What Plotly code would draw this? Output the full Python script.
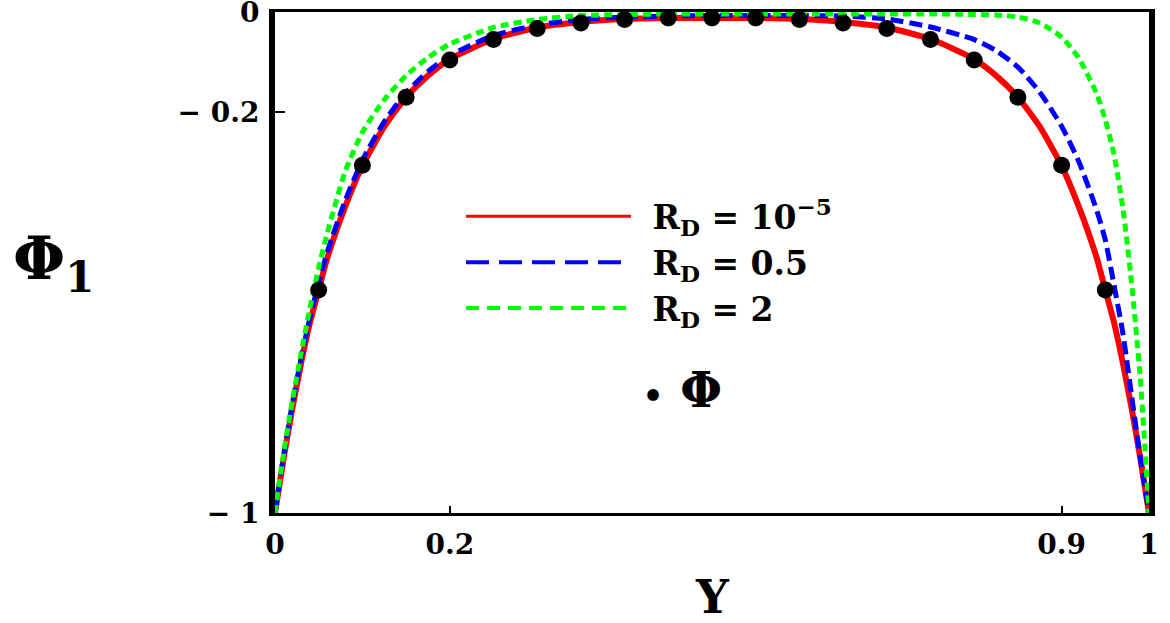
import plotly.graph_objects as go

Y = [0.0, 0.01, 0.02, 0.03, 0.04, 0.05, 0.06, 0.08, 0.10, 0.125, 0.15, 0.175, 0.20,
     0.25, 0.30, 0.35, 0.40, 0.45, 0.50, 0.55, 0.60, 0.65, 0.70, 0.75, 0.80, 0.825,
     0.85, 0.875, 0.90, 0.92, 0.94, 0.95, 0.96, 0.97, 0.98, 0.99, 1.0]

# Phi_1 for R_D = 1e-5 (red, solid)
phi1_rd_small = [-1.0, -0.89, -0.79, -0.70, -0.62, -0.555, -0.49, -0.39, -0.307, -0.229,
                 -0.170, -0.127, -0.094, -0.054, -0.031, -0.020, -0.014, -0.012, -0.012,
                 -0.012, -0.014, -0.020, -0.031, -0.054, -0.094, -0.127, -0.170, -0.229,
                 -0.307, -0.39, -0.49, -0.555, -0.62, -0.70, -0.79, -0.89, -1.0]

# Phi_1 for R_D = 0.5 (blue, dashed)
phi1_rd_half = [-1.0, -0.885, -0.78, -0.69, -0.61, -0.54, -0.478, -0.378, -0.296, -0.219,
                -0.161, -0.119, -0.087, -0.047, -0.026, -0.015, -0.010, -0.008, -0.007,
                -0.007, -0.007, -0.008, -0.014, -0.030, -0.055, -0.077, -0.110, -0.160,
                -0.228, -0.300, -0.395, -0.455, -0.545, -0.64, -0.765, -0.89, -1.0]

# Phi_1 for R_D = 2 (green, dotted)
phi1_rd_two = [-1.0, -0.88, -0.775, -0.68, -0.59, -0.51, -0.44, -0.32, -0.24, -0.175,
               -0.127, -0.091, -0.064, -0.031, -0.015, -0.007, -0.005, -0.004, -0.004,
               -0.004, -0.004, -0.004, -0.004, -0.004, -0.005, -0.006, -0.010, -0.022,
               -0.05, -0.093, -0.163, -0.215, -0.285, -0.39, -0.54, -0.73, -1.0]

# Phi (black dots)
Y_dots = [0.05, 0.10, 0.15, 0.20, 0.25, 0.30, 0.35, 0.40, 0.45, 0.50,
          0.55, 0.60, 0.65, 0.70, 0.75, 0.80, 0.85, 0.90, 0.95]
phi_dots = [-0.555, -0.306, -0.170, -0.096, -0.055, -0.033, -0.022, -0.015, -0.012, -0.012,
            -0.012, -0.015, -0.022, -0.033, -0.055, -0.096, -0.170, -0.306, -0.555]

x_tickvals = [0, 0.2, 0.9, 1]
x_ticktext = ["0", "0.2", "0.9", "1"]
y_tickvals = [-1, -0.2, 0]
y_ticktext = ["\u2212 1", "\u2212 0.2", "0"]

names = ["R<sub>D</sub> = 10<sup>\u22125</sup>", "R<sub>D</sub> = 0.5", "R<sub>D</sub> = 2"]
colors = ["#FF0000", "#0000FF", "#00FF00"]

FONT = "DejaVu Serif"
SP = "\u2002"

fig = go.Figure()
curve_style = [dict(width=6), dict(width=5, dash="13px,6px"), dict(width=5, dash="8px,5px")]
legend_style = [dict(width=3), dict(width=4, dash="23px,10px"), dict(width=4, dash="13px,8px")]
for ys, c, cs in zip([phi1_rd_small, phi1_rd_half, phi1_rd_two], colors, curve_style):
    fig.add_trace(go.Scatter(x=Y, y=ys, mode="lines", showlegend=False,
                             line=dict(color=c, shape="spline", smoothing=0.6, **cs)))
fig.add_trace(go.Scatter(x=Y_dots, y=phi_dots, mode="markers", showlegend=False,
                         marker=dict(color="black", size=17, line=dict(width=0))))

# legend entries (thinner strokes, as drawn in the original legend)
for n, c, ls in zip(names, colors, legend_style):
    fig.add_trace(go.Scatter(x=[None], y=[None], mode="lines", name=SP + n,
                             legendgroup="curves", line=dict(color=c, **ls)))
fig.add_trace(go.Scatter(x=[None], y=[None], mode="lines",
                         name="\u2009\u2022" + SP + "<span style='font-size:48px'>\u03a6</span>",
                         legendgroup="dots", line=dict(width=0, color="rgba(0,0,0,0)")))

fig.update_layout(
    width=1170, height=623,
    margin=dict(l=275, r=21, t=12, b=110, autoexpand=False),
    paper_bgcolor="white", plot_bgcolor="white",
    font=dict(family=FONT, color="black", weight="bold"),
    showlegend=True,
    legend=dict(x=0.2128, y=0.648, xanchor="left", yanchor="top",
                font=dict(family=FONT, size=33, color="black", weight="bold"),
                itemwidth=165, tracegroupgap=40, traceorder="grouped",
                bgcolor="rgba(0,0,0,0)", borderwidth=0),
    xaxis=dict(range=[0, 1], showgrid=False, zeroline=False, automargin=False,
               showline=True, linecolor="black", linewidth=3, mirror=True,
               ticks="inside", ticklen=7, tickwidth=2, tickcolor="black",
               tickvals=x_tickvals, ticktext=x_ticktext, ticklabelstandoff=4,
               ticklabeloverflow="allow",
               tickfont=dict(family=FONT, size=28, color="black", weight="bold")),
    yaxis=dict(range=[-1, 0], showgrid=False, zeroline=False, automargin=False,
               showline=True, linecolor="black", linewidth=6, mirror=True,
               ticks="inside", ticklen=10, tickwidth=2, tickcolor="black",
               tickvals=y_tickvals, ticktext=y_ticktext, ticklabelstandoff=4,
               ticklabeloverflow="allow",
               tickfont=dict(family=FONT, size=28, color="black", weight="bold")),
    annotations=[
        dict(text="\u03a6<sub>1</sub>", xref="paper", yref="paper", x=-0.253, y=0.50,
             xanchor="center", yanchor="middle", showarrow=False,
             font=dict(family=FONT, size=60, color="black", weight="bold")),
        dict(text="Y", xref="paper", yref="paper", x=0.50, y=-0.168,
             xanchor="center", yanchor="middle", showarrow=False,
             font=dict(family=FONT, size=46, color="black", weight="bold")),
    ],
)

fig.write_html("out.html")
